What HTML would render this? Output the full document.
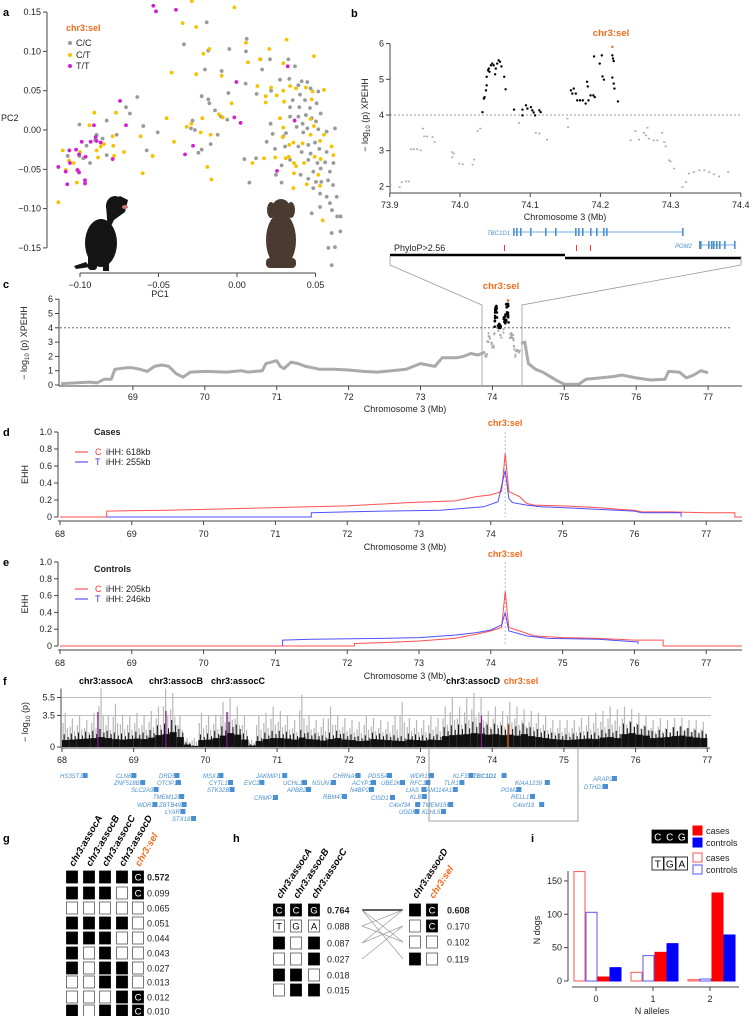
<!DOCTYPE html>
<html><head><meta charset="utf-8">
<style>
html,body{margin:0;padding:0;background:#fff;}
svg{display:block;font-family:"Liberation Sans",Arial,sans-serif;}
.t{font-size:9px;fill:#222;}
.pl{font-size:11px;font-weight:bold;fill:#000;}
.gene{font-size:6px;font-style:italic;fill:#4a8fd0;}
.or{fill:#f26a1b;}
</style></head>
<body>
<svg id="chart" width="753" height="1016" viewBox="0 0 753 1016" xmlns="http://www.w3.org/2000/svg">
<text class="pl" x="3" y="16">a</text>
<text class="pl" x="351" y="17">b</text>
<text class="pl" x="3" y="288">c</text>
<text class="pl" x="3" y="436">d</text>
<text class="pl" x="3" y="566">e</text>
<text class="pl" x="3" y="685">f</text>
<text class="pl" x="3" y="842">g</text>
<text class="pl" x="233" y="842">h</text>
<text class="pl" x="531" y="842">i</text>

<g fill="#151515">
<ellipse cx="101" cy="243" rx="16" ry="24"/>
<path d="M106 205 L120 196 L128 200 L125 212 L114 220 L108 232 Z"/>
<ellipse cx="115" cy="206" rx="9" ry="10"/>
<rect x="88" y="252" width="9" height="18" rx="3"/>
<rect x="103" y="250" width="6" height="21"/>
<path d="M86 262 L74 266 L76 269 L90 267 Z"/>
<ellipse cx="125" cy="207" rx="3" ry="2" fill="#c87878"/>
</g>
<g fill="#4b3a30">
<ellipse cx="281" cy="240" rx="15" ry="27"/>
<ellipse cx="281" cy="211" rx="10" ry="12"/>
<ellipse cx="271" cy="210" rx="4" ry="8"/>
<ellipse cx="291" cy="210" rx="4" ry="8"/>
<rect x="266" y="258" width="30" height="10" rx="4"/>
</g>

<g id="pa"></g>
<g id="pb"></g>
<g id="pc"></g>
<g id="pd"></g>
<g id="pe"></g>
<g id="pf"></g>
<g id="pg"></g>
<g id="ph"></g>
<g id="pi"></g>
</svg>
<script>
const ttX=[-0.0533,-0.0516,-0.0389,-0.0745,-0.0911,-0.0707,-0.0932,-0.0894,-0.0868,-0.0989,-0.1068,-0.1025,-0.1006,-0.0964,-0.1064,-0.1091,-0.1015,-0.1006,-0.0968,-0.0968,-0.1081,-0.1138,-0.0792,-0.028,-0.0331,-0.0004,-0.0017,0.0023,0.0323,0.0367,0.0255,-0.09];
const ttY=[0.158,0.151,0.153,0.037,0.006,0.006,-0.015,-0.014,-0.016,-0.015,-0.026,-0.025,-0.031,-0.034,-0.042,-0.053,-0.051,-0.054,-0.064,-0.068,-0.069,-0.047,-0.037,-0.02,-0.031,0.061,0.016,0.009,0.081,0.012,-0.052,-0.009];
const ctX=[-0.0287,-0.0017,-0.0346,-0.026,0.0316,0.0057,-0.0176,-0.0214,0.0206,0.0146,0.007,0.0295,0.049,-0.0416,-0.026,-0.0098,0.013,0.0217,0.0295,0.0338,0.0376,0.0439,0.0482,0.0554,0.0183,0.0253,0.03,0.0476,0.0183,-0.0034,-0.0448,-0.0221,-0.0291,-0.032,-0.0115,-0.0091,0.0274,0.0295,0.0469,0.049,-0.0909,-0.077,-0.094,-0.0614,-0.0168,-0.0401,-0.0231,-0.0792,-0.0788,-0.0847,-0.0868,-0.0894,-0.0783,-0.072,-0.0885,-0.111,-0.1,-0.107,-0.104,-0.1019,-0.109,-0.102,-0.1138,-0.0537,-0.0601,-0.0189,-0.0163,0.0098,0.0172,0.0244,0.031,0.0363,0.033,0.0376,0.0427,0.0469,0.0554,0.0529,0.0603,0.0614,0.0533,0.0518,0.0444,0.0529,0.0363,0.0359,0.0546,0.0359,0.0333,0.0418,0.0291,0.0495];
const ctY=[0.164,0.156,0.136,0.131,0.115,0.111,0.103,0.097,0.103,0.09,0.086,0.085,0.094,0.073,0.071,0.069,0.056,0.054,0.05,0.056,0.053,0.054,0.049,0.051,0.043,0.044,0.036,0.039,0.035,0.034,0.015,0.015,0.008,0.004,0.02,0.016,0.015,0.003,0.014,0.005,0.022,0.022,0.006,-0.008,-0.006,-0.015,-0.003,-0.008,-0.02,-0.018,-0.021,-0.026,-0.033,-0.028,-0.035,-0.026,-0.028,-0.039,-0.042,-0.051,-0.051,-0.067,-0.092,-0.033,-0.055,-0.047,-0.063,-0.042,-0.036,-0.035,-0.036,-0.042,-0.034,-0.046,-0.042,-0.006,-0.006,-0.014,-0.021,-0.032,-0.037,-0.057,-0.069,-0.071,-0.055,-0.074,-0.115,-0.016,-0.019,-0.017,-0.009,-0.034];
const ccX=[-0.0193,-0.0338,-0.0183,-0.0049,0.0062,0.0057,0.015,0.021,0.016,-0.0098,-0.0204,0.0327,0.0369,-0.0635,-0.0707,-0.0682,-0.083,-0.1004,-0.0597,-0.0505,-0.0575,-0.0293,-0.0283,-0.0268,-0.0225,-0.0183,-0.0176,-0.014,-0.0055,-0.0102,-0.0062,-0.0123,-0.0168,-0.0225,-0.0246,0.0047,0.0079,0.0055,0.0125,0.0217,0.0274,0.0333,0.0391,0.0412,0.0448,0.0469,0.0518,0.0401,0.0433,0.0355,0.0338,0.0397,0.0465,0.0507,0.0533,0.0439,0.0391,0.0338,0.0476,0.0503,0.0418,0.038,0.0448,0.0518,0.0571,0.0624,0.0422,0.0312,0.0214,0.0227,0.0189,0.0242,0.0306,0.0391,0.0454,0.0497,0.0412,0.0469,0.0524,0.0571,0.0454,0.0512,0.0561,0.0592,0.0533,0.0486,0.0405,0.0454,0.0503,0.0537,0.058,0.0612,0.0486,0.0529,0.0571,0.0592,0.0635,0.0605,0.0638,0.066,0.0658,0.0603,0.0582,0.0624,0.0603,0.0476,0.0529,0.0295,0.0284,0.0248,0.0284,0.0121,0.0614,0.0338,-0.0894,-0.0904,-0.0958,-0.1004,-0.0936,-0.0979,-0.1078,-0.0856,-0.083,-0.0766];
const ccY=[0.137,0.109,0.101,0.103,0.116,0.1,0.09,0.09,0.077,0.075,0.077,0.09,0.081,0.042,0.029,0.021,0.012,0.007,0.005,-0.003,-0.026,0.002,0.012,0,0.043,0.039,0.034,0.025,0.047,0.017,0.013,-0.006,-0.018,-0.025,-0.029,-0.037,-0.067,0.059,0.046,0.05,0.064,0.065,0.057,0.062,0.061,0.053,0.049,0.045,0.038,0.038,0.029,0.029,0.028,0.034,0.021,0.019,0.017,0.017,0.015,0.011,0.008,0.004,0.002,0.001,-0.002,0.002,-0.003,-0.004,0.008,-0.005,-0.015,-0.024,-0.021,-0.021,-0.019,-0.016,-0.028,-0.03,-0.024,-0.028,-0.038,-0.042,-0.041,-0.053,-0.049,-0.053,-0.057,-0.062,-0.066,-0.066,-0.064,-0.07,-0.074,-0.081,-0.085,-0.093,-0.085,-0.102,-0.11,-0.11,-0.129,-0.131,-0.15,-0.149,-0.172,-0.106,-0.098,-0.008,-0.045,-0.057,-0.067,-0.036,-0.042,-0.038,-0.006,-0.013,-0.02,-0.033,-0.042,-0.036,-0.033,-0.011,-0.032,-0.006];
const aXTicks=[-0.10,-0.05,0.00,0.05];
const aXLabels=["\u22120.10","\u22120.05","0.00","0.05"];
const aYTicks=[0.15,0.10,0.05,0.00,-0.05,-0.10,-0.15];
const aYLabels=["0.15","0.10","0.05","0.00","\u22120.05","\u22120.10","\u22120.15"];

const bBlackPos=[74.032,74.034,74.035,74.037,74.038,74.038,74.040,74.041,74.042,74.044,74.046,74.048,74.051,74.053,74.057,74.055,74.050,74.059,74.063,74.065,74.077,74.089,74.089,74.094,74.096,74.101,74.103,74.105,74.107,74.113,74.115,74.158,74.160,74.162,74.165,74.167,74.171,74.175,74.179,74.183,74.181,74.182,74.186,74.190,74.192,74.191,74.199,74.202,74.203,74.205,74.217,74.218,74.219,74.217,74.219,74.220,74.225];
const bBlackVal=[4.08,4.46,4.50,4.69,4.83,5.07,5.25,5.30,5.21,5.39,5.44,5.39,5.30,5.44,5.49,5.53,5.14,5.36,5.07,4.72,4.15,4.15,3.99,4.27,4.18,4.22,4.13,4.07,3.99,4.13,4.08,4.69,4.60,4.74,4.60,4.41,4.41,4.41,4.32,4.41,4.93,4.80,4.55,4.55,4.50,5.64,5.44,5.67,5.08,4.99,5.67,5.58,5.51,5.05,4.88,4.74,4.38];
const bSelPos=[74.217];
const bSelVal=[5.91];
const bGrayPos=[73.901,73.914,73.917,73.923,73.927,73.930,73.934,73.939,73.944,73.947,73.949,73.953,73.961,73.964,73.989,73.991,73.989,73.999,74.004,74.018,74.020,74.025,74.029,74.084,74.108,74.113,74.124,74.153,74.154,74.243,74.250,74.255,74.262,74.265,74.267,74.269,74.276,74.281,74.288,74.291,74.293,74.298,74.300,74.305,74.317,74.322,74.326,74.333,74.341,74.348,74.355,74.362,74.369,74.382];
const bGrayVal=[2.03,1.98,2.12,2.14,2.14,3.04,3.04,3.04,3.01,3.62,3.40,3.40,3.38,3.24,2.96,2.92,2.82,2.64,2.62,2.61,2.75,3.55,3.62,3.78,3.50,3.48,3.31,3.90,3.66,3.29,3.55,3.31,3.50,3.43,3.64,3.34,3.29,3.29,3.50,3.24,3.12,2.73,2.70,2.50,1.98,2.12,2.36,2.40,2.45,2.45,2.40,2.34,2.28,2.40];
const bXTicks=[73.9,74.0,74.1,74.2,74.3,74.4];
const bXLabels=["73.9","74.0","74.1","74.2","74.3","74.4"];
const bYTicks=[2,3,4,5,6];

const cPos=[68.0,68.2,68.4,68.5,68.6,68.7,68.75,68.9,69.0,69.1,69.2,69.3,69.4,69.5,69.6,69.7,69.8,70.0,70.3,70.5,70.6,70.8,70.85,71.0,71.05,71.1,71.2,71.3,71.4,71.5,71.6,71.8,72.0,72.2,72.4,72.6,72.8,72.9,73.0,73.1,73.2,73.3,73.5,73.6,73.7,73.8,73.85,73.9];
const cVal=[0.1,0.15,0.2,0.15,0.4,0.4,1.1,1.2,1.2,1.1,0.95,1.3,1.4,1.3,0.8,0.55,0.9,0.95,0.9,1.0,0.9,1.0,1.5,1.7,1.3,1.15,1.6,1.5,1.3,1.2,1.1,1.1,1.05,0.95,0.9,1.0,1.1,1.3,1.5,1.4,1.3,1.9,1.9,2.0,2.2,2.1,2.2,2.3];
const cPos2=[74.4,74.45,74.5,74.6,74.7,74.8,74.9,75.0,75.2,75.3,75.5,75.7,75.8,76.0,76.2,76.4,76.45,76.6,76.7,76.8,76.9,77.0];
const cVal2=[2.9,3.0,1.5,1.1,0.9,0.6,0.3,0.05,0.05,0.4,0.5,0.6,0.7,0.5,0.35,0.4,0.95,0.9,0.5,0.7,1.0,0.85];
const chrTicks=[69,70,71,72,73,74,75,76,77];
const chrTicksFull=[68,69,70,71,72,73,74,75,76,77];
const cYTicks=[0,1,2,3,4,5,6];

const dCasesCPos=[68.0,68.65,68.65,69.5,70.0,71.0,72.0,72.85,73.5,73.8,74.0,74.15,74.2,74.25,74.3,74.4,74.5,74.6,75.0,75.5,75.8,76.0,76.1,76.5,77.0,77.4,77.4,77.5];
const dCasesCVal=[0,0,0.07,0.08,0.09,0.11,0.13,0.17,0.19,0.24,0.26,0.30,0.75,0.30,0.28,0.24,0.16,0.14,0.13,0.11,0.09,0.08,0.06,0.06,0.05,0.05,0,0];
const dCasesTPos=[68.65,71.5,71.5,72.0,72.5,73.3,73.6,73.9,74.1,74.2,74.25,74.3,74.5,74.7,75.0,75.5,76.0,76.1,76.65,76.65];
const dCasesTVal=[0,0,0.05,0.06,0.07,0.08,0.10,0.12,0.18,0.55,0.22,0.17,0.14,0.12,0.11,0.09,0.07,0.05,0.05,0];
const eCtrlCPos=[68.0,72.1,72.1,72.5,73.0,73.5,73.8,74.0,74.15,74.2,74.25,74.4,74.6,75.0,75.5,76.0,76.4,76.4,77.5];
const eCtrlCVal=[0,0,0.03,0.04,0.06,0.09,0.14,0.18,0.22,0.65,0.22,0.18,0.12,0.10,0.09,0.07,0.07,0,0];
const eCtrlTPos=[71.1,71.1,71.5,72.5,73.0,73.5,73.8,74.0,74.15,74.2,74.25,74.5,74.8,75.5,76.0,76.05,76.05];
const eCtrlTVal=[0,0.07,0.08,0.09,0.10,0.13,0.16,0.19,0.25,0.40,0.18,0.12,0.09,0.08,0.05,0.05,0.02];
const ehhYTicks=[0,0.2,0.4,0.6,0.8,1.0];
const ehhYLabels=["0","0.2","0.4","0.6","0.8","1.0"];

const fBlack=[1.4,1.5,1.6,1.7,1.8,2.0,1.8,1.6,1.5,1.6, 1.7,1.6,1.9,2.4,2.6,3.0,2.0,0.5,0.2,1.4, 1.5,1.8,2.3,2.8,2.5,1.5,0.3,1.2,1.6,1.8, 1.8,1.7,1.5,1.9,1.6,1.5,1.3,1.6,1.8,1.5, 1.4,1.2,1.3,1.6,1.5,1.4,1.3,1.2,1.5,1.4, 1.3,1.5,1.4,2.2,2.4,2.5,2.6,2.8,2.7,2.5, 2.6,2.4,2.5,2.3,2.6,2.2,2.0,1.8,1.6,1.5, 1.4,1.5,1.6,1.7,1.6,1.9,2.0,1.8,2.6,2.8, 2.5,2.3,1.8,1.9,2.0,2.2,2.3,2.1,1.9,1.8];
const fGray=[3.8,3.2,3.5,3.0,3.8,6.5,3.5,4.8,3.6,3.5, 3.8,3.5,4.0,4.5,6.5,6.0,3.5,1.0,1.0,3.8, 3.5,3.6,5.0,5.5,4.5,3.5,0.8,3.5,3.8,4.5, 4.0,3.5,3.0,5.8,3.5,3.0,3.2,4.5,3.5,3.2, 3.0,2.8,3.5,3.2,3.0,2.8,3.5,5.0,3.2,3.0, 3.0,3.5,3.2,4.5,5.5,4.5,5.5,6.0,5.5,4.0, 4.5,4.0,5.0,4.5,4.2,4.0,3.8,3.5,3.0,3.0, 3.0,3.0,3.2,3.5,3.8,4.0,4.5,4.2,4.5,4.2, 3.8,3.5,3.0,3.2,3.0,3.2,3.3,3.0,3.0,2.8];
const fAssocPos=[68.5,69.45,70.3,73.85];
const fAssocVal=[3.9,4.0,3.9,3.5];
const fSelPos=[74.22];
const fSelVal=[2.6];
const fYTicks=[0,3.5,5.5];
const fYLabels=["0","3.5","5.5"];

const iCategories=[0,1,2];
const iTgaCases=[164,13,2];
const iTgaControls=[103,38,3];
const iCcgCases=[6,43,132];
const iCcgControls=[20,56,69];
const iYTicks=[0,50,100,150];

const NS='http://www.w3.org/2000/svg';
function mk(tag,attrs,parent){const e=document.createElementNS(NS,tag);for(const k in attrs)e.setAttribute(k,attrs[k]);parent.appendChild(e);return e;}
function tx(parent,x,y,s,attrs){const e=mk('text',Object.assign({x:x,y:y},attrs||{}),parent);e.textContent=s;return e;}

function axisX(g,y,x0,x1,ticks,labels,X,labY,showLine){
  if(showLine){const l=mk('line',{x1:x0,x2:x1,y1:y,y2:y,stroke:'#444','stroke-width':1},g);
  
  }
  ticks.forEach((t,i)=>{
    const k=mk('line',{x1:X(t),x2:X(t),y1:y,y2:y+4,stroke:'#444','stroke-width':1},g);
    
    
    const s=tx(g,X(t),labY,labels[i],{'class':'t','text-anchor':'middle'});
    
    
  });
}
function axisY(g,x,y0,y1,ticks,labels,Y){
  const l=mk('line',{x1:x,x2:x,y1:y0,y2:y1,stroke:'#444','stroke-width':1},g);
  
  
  ticks.forEach((t,i)=>{
    const k=mk('line',{x1:x-4,x2:x,y1:Y(t),y2:Y(t),stroke:'#444','stroke-width':1},g);
    
    
    const s=tx(g,x-6,Y(t)+3,labels[i],{'class':'t','text-anchor':'end'});
    
    
  });
}
function ylab(g,x,y,parts){
  const t=mk('text',{x:0,y:0,'class':'t',transform:`translate(${x},${y}) rotate(-90)`,'text-anchor':'middle'},g);
  parts.forEach(p=>{const ts=mk('tspan',p.sub?{'font-size':6,dy:2}:(p.up?{dy:-2}:{}),t);ts.textContent=p.s;});
  return t;
}

(function(){
const g=document.getElementById('pa');
const X=v=>237+v*1570, Y=v=>130-v*786;
axisY(g,47,Y(0.15),Y(-0.15),aYTicks,aYLabels,Y);
axisX(g,273,X(-0.10),X(0.05),aXTicks,aXLabels,X,288,true);
const p1=tx(g,160,297,'PC1',{'class':'t','text-anchor':'middle','font-size':8});


const p2=tx(g,1,121,'PC2',{'class':'t','font-size':8});


function pts(xs,ys,col,name){xs.forEach((v,i)=>{const c=mk('circle',{cx:X(v),cy:Y(ys[i]),r:1.9,fill:col},g);

});}
pts(ccX,ccY,'#9a9a9a','point-cc');
pts(ctX,ctY,'#f5c200','point-ct');
pts(ttX,ttY,'#d21fd2','point-tt');
const lt=tx(g,66,31,'chr3:sel',{'class':'or','font-size':9,'font-weight':'bold'});


[['C/C','#9a9a9a',43],['C/T','#f5c200',55],['T/T','#d21fd2',66]].forEach(e=>{
  const c=mk('circle',{cx:70,cy:e[2],r:2,fill:e[1]},g);
  
  
  const s=tx(g,76,e[2]+3,e[0],{'class':'t','font-size':9});
  
  
});
})();

(function(){
const g=document.getElementById('pb');
const X=p=>460+(p-74)*702, Y=v=>115-(v-4)*35.7;
axisY(g,390,Y(6),193,bYTicks,bYTicks.map(String),Y);
axisX(g,193,390,741,bXTicks,bXLabels,X,208,true);
const tl=tx(g,565,220,'Chromosome 3 (Mb)',{'class':'t','text-anchor':'middle','font-size':9.5});


const yl=ylab(g,368,115,[{s:'\u2212 log'},{s:'10',sub:1},{s:' (p) XPEHH',up:1}]);


const th=mk('line',{x1:390,x2:741,y1:Y(4),y2:Y(4),stroke:'#777','stroke-dasharray':'2,2','stroke-width':0.8},g);


bGrayPos.forEach((p,i)=>{const c=mk('rect',{x:X(p)-1,y:Y(bGrayVal[i])-0.8,width:2,height:1.6,fill:'#aaa'},g);

});
bBlackPos.forEach((p,i)=>{const c=mk('circle',{cx:X(p),cy:Y(bBlackVal[i]),r:1.2,fill:'#000'},g);

});
bSelPos.forEach((p,i)=>{const c=mk('circle',{cx:X(p),cy:Y(bSelVal[i]),r:1.2,fill:'#f26a1b'},g);

});
const sl=tx(g,611,36,'chr3:sel',{'class':'or','font-size':9.5,'font-weight':'bold','text-anchor':'middle'});


const t1=tx(g,510,235,'TBC1D1',{'class':'gene','font-size':8,'text-anchor':'end'});


const gl=mk('line',{x1:513,x2:682,y1:232,y2:232,stroke:'#4a8fd0','stroke-width':0.8},g);


[513,516,520,530,545,555,575,578,582,590,596,603,606,682].forEach(x=>{const r=mk('rect',{x:x,y:228,width:1.6,height:8,fill:'#4a8fd0'},g);

});
const t2=tx(g,692,248,'PGM2',{'class':'gene','font-size':8,'text-anchor':'end'});


const gl2=mk('line',{x1:699,x2:734,y1:245,y2:245,stroke:'#4a8fd0','stroke-width':0.8},g);


[699,700,708,711,713,716,719,724,734].forEach(x=>{const r=mk('rect',{x:x,y:241,width:1.6,height:8,fill:'#4a8fd0'},g);

});
const ph=tx(g,394,251,'PhyloP>2.56',{'class':'t','font-size':8.5});


[504,576,590].forEach(x=>{const r=mk('rect',{x:x,y:245,width:1,height:6,fill:'#e33'},g);

});
const k1=mk('path',{d:'M390 255 H565 M565 258 H741',stroke:'#000','stroke-width':2.5,fill:'none'},g);


const z=mk('path',{d:'M390 256 V265 L482 305 V385 M741 256 V265 L522 305 V385',stroke:'#999','stroke-width':0.8,fill:'none'},g);


})();

(function(){
const g=document.getElementById('pc');
const X=p=>61+(p-68)*71.9, Y=v=>385-v*14.3;
axisY(g,59,Y(6),386,cYTicks,cYTicks.map(String),Y);
axisX(g,386,59,742,chrTicks,chrTicks.map(String),X,400,true);
const tl=tx(g,405,412,'Chromosome 3 (Mb)',{'class':'t','text-anchor':'middle','font-size':9.5});


const yl=ylab(g,27,343,[{s:'\u2212 log'},{s:'10',sub:1},{s:' (p) XPEHH',up:1}]);


const th=mk('line',{x1:60,x2:732,y1:Y(4),y2:Y(4),stroke:'#555','stroke-dasharray':'2,2','stroke-width':0.8},g);


[[cPos,cVal],[cPos2,cVal2]].forEach(s=>{
  const d=s[0].map((p,i)=>(i?'L':'M')+X(p).toFixed(1)+' '+Y(s[1][i]).toFixed(1)).join(' ');
  const pl=mk('path',{d:d,stroke:'#aaa','stroke-width':3,fill:'none','stroke-linejoin':'round'},g);
  
  
});
bGrayPos.forEach((p,i)=>{const c=mk('circle',{cx:X(p),cy:Y(bGrayVal[i]),r:1.1,fill:'#aaa'},g);

});
bBlackPos.forEach((p,i)=>{const c=mk('circle',{cx:X(p),cy:Y(bBlackVal[i]),r:1.3,fill:'#000'},g);

});
bSelPos.forEach((p,i)=>{const c=mk('circle',{cx:X(p),cy:Y(bSelVal[i]),r:1.3,fill:'#f26a1b'},g);

});
const sl=tx(g,501,289,'chr3:sel',{'class':'or','font-size':9.5,'font-weight':'bold','text-anchor':'middle'});


})();

function ehh(id,Y0,scale,title,series,labelY,legY,legText){
const g=document.getElementById(id);
const X=p=>60+(p-68)*71.8, Y=v=>Y0-v*scale;
axisY(g,58,Y(1),Y(0),ehhYTicks,ehhYLabels,Y);
axisX(g,Y0+4,58,742,chrTicksFull,chrTicksFull.map(String),X,Y0+20,true);
const tl=tx(g,405,Y0+33,'Chromosome 3 (Mb)',{'class':'t','text-anchor':'middle','font-size':9.5});


const yl=ylab(g,28,Y(0.5),[{s:'EHH'}]);


const vl=mk('line',{x1:X(74.2),x2:X(74.2),y1:Y(1),y2:Y0,stroke:'#aaa','stroke-dasharray':'2,2','stroke-width':0.8},g);


series.forEach(s=>{
  const d=s.pos.map((p,i)=>(i?'L':'M')+X(p).toFixed(1)+' '+Y(s.val[i]).toFixed(1)).join(' ');
  const pl=mk('path',{d:d,stroke:s.col,'stroke-width':1,fill:'none','stroke-opacity':0.85},g);
  
  
});
const sl=tx(g,X(74.2),labelY,'chr3:sel',{'class':'or','font-size':9,'font-weight':'bold','text-anchor':'middle'});


const tt=tx(g,94,legY,title,{'class':'t','font-weight':'bold','font-size':8.5});


[['C','#f33',legY+17,legText[0]],['T','#33f',legY+27,legText[1]]].forEach(e=>{
  const l=mk('line',{x1:75,x2:88,y1:e[2],y2:e[2],stroke:e[1],'stroke-width':1},g);
  
  
  const a=tx(g,95,e[2]+3,e[0],{'font-size':9,fill:e[1]});
  
  
  const b=tx(g,106,e[2]+3,e[3],{'class':'t','font-size':8});
  
  
});
}
ehh('pd',517,85,'Cases',[{pos:dCasesCPos,val:dCasesCVal,col:'#f33',name:'ehh-cases-c'},{pos:dCasesTPos,val:dCasesTVal,col:'#33f',name:'ehh-cases-t'}],426,435,['iHH: 618kb','iHH: 255kb']);
ehh('pe',646,84,'Controls',[{pos:eCtrlCPos,val:eCtrlCVal,col:'#f33',name:'ehh-controls-c'},{pos:eCtrlTPos,val:eCtrlTVal,col:'#33f',name:'ehh-controls-t'}],557,572,['iHH: 205kb','iHH: 246kb']);

(function(){
const g=document.getElementById('pf');
const X=p=>62+(p-68)*71.7, Y=v=>747-v*9;
axisY(g,61,Y(6.5),748,fYTicks,fYLabels,Y);
axisX(g,748,61,710,chrTicksFull,chrTicksFull.map(String),X,763,true);
const yl=ylab(g,28,722,[{s:'\u2212 log'},{s:'10',sub:1},{s:' (p)',up:1}]);


[5.5,3.5].forEach(v=>{const l=mk('line',{x1:62,x2:711,y1:Y(v),y2:Y(v),stroke:'#aaa','stroke-width':0.8},g);

});
const w=71.7/10;
const grayTex=[[0.15,0.7],[0.45,1.0],[0.75,0.55]];
const blackTex=[[0.3,1.0],[0.85,0.8]];
fGray.forEach((v,i)=>{
  const x=X(68+i*0.1);
  grayTex.forEach(tt=>{
    const l=mk('line',{x1:x+w*tt[0],x2:x+w*tt[0],y1:Y(v*tt[1]),y2:Y(0),stroke:'#b8b8b8','stroke-width':1.2},g);
    
    
  });
});
fBlack.forEach((v,i)=>{
  const x=X(68+i*0.1);
  const r=mk('rect',{x:x,y:Y(v*0.55),width:w,height:Y(0)-Y(v*0.55),fill:'#111'},g);
  
  
  blackTex.forEach(tt=>{
    const l=mk('line',{x1:x+w*tt[0],x2:x+w*tt[0],y1:Y(v*tt[1]),y2:Y(0),stroke:'#111','stroke-width':1},g);
    
    
  });
});
fAssocPos.forEach((p,i)=>{const l=mk('line',{x1:X(p),x2:X(p),y1:Y(fAssocVal[i]),y2:Y(0),stroke:'#8a1a8a','stroke-width':1.2},g);

});
fSelPos.forEach((p,i)=>{const l=mk('line',{x1:X(p),x2:X(p),y1:Y(fSelVal[i]),y2:Y(0),stroke:'#f26a1b','stroke-width':1.2},g);

});
[['chr3:assocA',106,'#000'],['chr3:assocB',176,'#000'],['chr3:assocC',238,'#000'],['chr3:assocD',473,'#000'],['chr3:sel',521,'#f26a1b']].forEach(e=>{
  const s=tx(g,e[1],684,e[0],{'font-size':9,'font-weight':'bold','text-anchor':'middle',fill:e[2]});
  
  
});
const genes=[['HS3ST1',60,776],['CLNK',116,776],['ZNF518B',114,783],['SLC2A9',131,790],['TMEM128',153,797],['WDR1',137,805],['ZBTB49',159,805],['LYAR',165,812],['STX18',172,819],['DRD5',159,776],['OTOP1',157,783],['MSX1',203,776],['CYTL1',209,783],['STK32B',207,790],['JAKMIP1',256,776],['EVC2',244,783],['CRMP1',254,798],['UCHL1',283,783],['APBB2',287,790],['NSUN7',312,783],['RBM47',323,797],['CHRNA9',333,776],['ACYP1',352,783],['N4BP2',350,790],['CISD1',371,798],['PDS5A',368,776],['UBE2K',381,783],['WDR19',410,776],['RFC1',410,783],['LIAS',406,790],['FAM114A1',423,790],['KLB',410,797],['C4orf34',389,805],['TMEM156',422,805],['UGDH',399,812],['KLHL5',422,812],['KLF3',453,776],['TBC1D1',473,776],['TLR1',444,783],['KIAA1239',515,783],['PGM2',501,790],['RELL1',511,797],['C4orf19',513,805],['ARAP2',593,779],['DTHD1',584,787]];
genes.forEach(e=>{
  const s=tx(g,e[1],e[2]+2,e[0],{'class':'gene','font-weight':e[0]==='TBC1D1'?'bold':'normal','font-size':e[0]==='TBC1D1'?7:6});
  
  
  const wd=e[0].length*(e[0]==='TBC1D1'?4.6:3.6);
  const r=mk('rect',{x:e[1]+wd+1,y:e[2]-3,width:5,height:5,fill:'#4a8fd0'},g);
  
  
});
const bx=mk('path',{d:'M429 749 V821 H578 V749',stroke:'#888','stroke-width':0.8,fill:'none'},g);


})();

const gRows=[['B','B','B','B','C'],['B','B','B','W','C'],['W','W','W','W','W'],['B','B','B','B','W'],['B','B','B','W','W'],['B','W','B','W','W'],['B','W','B','B','W'],['W','W','B','B','W'],['W','W','W','B','C'],['B','W','B','B','C']];
const gFreq=['0.572','0.099','0.065','0.051','0.044','0.043','0.027','0.013','0.012','0.010'];
const hLeftRows=[['C','C','G'],['T','G','A'],['B','W','B'],['W','W','B'],['B','B','W'],['W','B','B']];
const hLeftFill=['B','W','','','',''];
const hLeftFreq=['0.764','0.088','0.087','0.027','0.018','0.015'];
const hRightRows=[['B','C'],['W','C'],['W','W'],['B','W']];
const hRightFreq=['0.608','0.170','0.102','0.119'];
const hLinks=[[0,0],[0,2],[0,3],[1,0],[1,2],[2,1],[2,0],[3,1]];

function cell(g,cx,cy,v,fillHint){
  const black=(v==='B')||(v!=='W'&&fillHint!=='W');
  const r=mk('rect',{x:cx-5.5,y:cy-6,width:11,height:12,fill:black?'#000':'#fff',stroke:black?'#000':'#555','stroke-width':0.8},g);
  
  
  if(v!=='B'&&v!=='W'){
    const t=tx(g,cx,cy+3.5,v,{'font-size':9.5,'text-anchor':'middle',fill:black?'#fff':'#000'});
    
    
  }
}
function header(g,x,y,s,col,ang){
  const t=tx(g,0,0,s,{'font-size':9.5,'font-weight':'bold','font-style':'italic',fill:col,transform:`translate(${x},${y}) rotate(${ang})`});
  
  
}
(function(){
const g=document.getElementById('pg');
const cols=[72,89,105,122,138];
const rowsY=[877,893,908,923,938,953,968,982,997,1011];
['chr3:assocA','chr3:assocB','chr3:assocC','chr3:assocD','chr3:sel'].forEach((s,i)=>header(g,cols[i]+2,867,s,i===4?'#f26a1b':'#000',-60));
gRows.forEach((r,i)=>{r.forEach((v,j)=>cell(g,cols[j],rowsY[i],v,v==='C'?'B':''));
  const f=tx(g,147,rowsY[i]+3.5,gFreq[i],{'class':'t','font-size':9.5,'font-weight':i===0?'bold':'normal'});
  
  });
})();
(function(){
const g=document.getElementById('ph');
const colsL=[279,296,314], colsR=[415,432];
const rowsL=[910,926,943,959,975,990], rowsR=[910,926,942,959];
['chr3:assocA','chr3:assocB','chr3:assocC'].forEach((s,i)=>header(g,colsL[i]+2,899,s,'#000',-57));
['chr3:assocD','chr3:sel'].forEach((s,i)=>header(g,colsR[i]+2,899,s,i?'#f26a1b':'#000',-57));
hLeftRows.forEach((r,i)=>{r.forEach((v,j)=>cell(g,colsL[j],rowsL[i],v,hLeftFill[i]));
  const f=tx(g,327,rowsL[i]+3.5,hLeftFreq[i],{'class':'t','font-size':9.5,'font-weight':i===0?'bold':'normal'});
  
  });
hRightRows.forEach((r,i)=>{r.forEach((v,j)=>cell(g,colsR[j],rowsR[i],v,v==='C'?'B':''));
  const f=tx(g,447,rowsR[i]+3.5,hRightFreq[i],{'class':'t','font-size':9.5,'font-weight':i===0?'bold':'normal'});
  
  });
hLinks.forEach((lk,i)=>{const l=mk('line',{x1:362,y1:rowsL[lk[0]],x2:403,y2:rowsR[lk[1]],stroke:i===0?'#000':'#999','stroke-width':i===0?1.3:0.7},g);
  
  });
})();

(function(){
const g=document.getElementById('pi');
const Y=n=>981-n*0.667;
const Xc=c=>596+c*57;
axisY(g,568,Y(165),Y(0),iYTicks,iYTicks.map(String),Y);
const ax=mk('line',{x1:572,x2:739,y1:987,y2:987,stroke:'#444','stroke-width':1},g);


iCategories.forEach(c=>{const k=mk('line',{x1:Xc(c),x2:Xc(c),y1:987,y2:991,stroke:'#444'},g);


const s=tx(g,Xc(c),1002,String(c),{'class':'t','font-size':10,'text-anchor':'middle'});

});
const xt=tx(g,652,1014,'N alleles',{'class':'t','font-size':10,'text-anchor':'middle'});


const yt=ylab(g,540,930,[{s:'N dogs'}]);
yt.setAttribute('font-size','10');


const series=[[iTgaCases,-22,'none','#f55','bar-tga-cases'],[iTgaControls,-10,'none','#55f','bar-tga-controls'],[iCcgCases,2,'#f00','#f00','bar-ccg-cases'],[iCcgControls,14,'#00f','#00f','bar-ccg-controls']];
series.forEach(s=>{s[0].forEach((v,i)=>{
  const r=mk('rect',{x:Xc(iCategories[i])+s[1],y:Y(v),width:11,height:Y(0)-Y(v),fill:s[2],stroke:s[3],'stroke-width':1},g);
  
  
});});
function hap(x,y,letters,dark){
  letters.forEach((L,i)=>{const r=mk('rect',{x:x+i*12,y:y,width:11.5,height:13,fill:dark?'#000':'#fff',stroke:'#000','stroke-width':0.8},g);
  
  
  const t=tx(g,x+i*12+5.8,y+10.5,L,{'font-size':10,'text-anchor':'middle',fill:dark?'#fff':'#000'});
  
  });
}
hap(652,830,['C','C','G'],true);
hap(652,857,['T','G','A'],false);
[[826,'#f00','#f00','cases'],[838,'#00f','#00f','controls'],[853,'#fff','#f55','cases'],[865,'#fff','#55f','controls']].forEach(e=>{
  const r=mk('rect',{x:693,y:e[0],width:9,height:9,fill:e[1],stroke:e[2]},g);
  
  
  const t=tx(g,706,e[0]+8,e[3],{'class':'t','font-size':10.5});
  
  
});
})();
</script>
</body></html>
